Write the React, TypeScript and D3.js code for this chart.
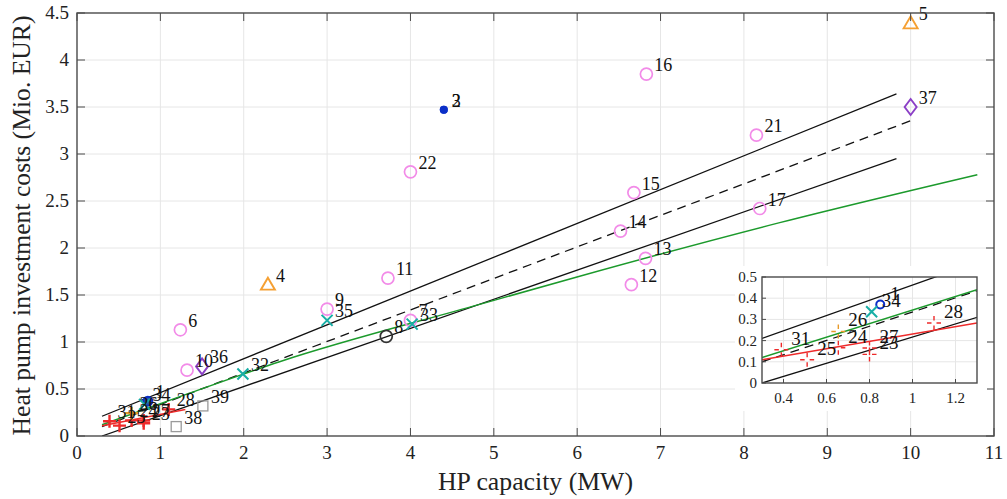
import React, { useEffect, useRef } from "react";
import * as d3 from "d3";

// plants: number, capacity (MW), investment cost (Mio. EUR), marker type
const plantIds = [1, 2, 3, 4, 5, 6, 7, 8, 9, 10, 11, 12, 13, 14, 15, 16, 17, 21, 22, 23, 24, 25, 26, 27, 28, 31, 32, 33, 34, 35, 36, 37, 38, 39];
const plantCapacity = [0.85, 4.4, 4.4, 2.29, 10.0, 1.24, 4.0, 3.71, 3.0, 1.32, 3.73, 6.65, 6.82, 6.52, 6.68, 6.83, 8.19, 8.15, 4.0, 0.8, 0.655, 0.51, 0.655, 0.8, 1.1, 0.39, 1.99, 4.02, 0.81, 3.0, 1.5, 10.0, 1.19, 1.51];
const plantCost = [0.37, 3.47, 3.47, 1.61, 4.39, 1.13, 1.23, 1.06, 1.35, 0.7, 1.68, 1.61, 1.89, 2.18, 2.59, 3.85, 2.42, 3.2, 2.81, 0.135, 0.166, 0.11, 0.243, 0.165, 0.283, 0.157, 0.66, 1.19, 0.336, 1.23, 0.74, 3.5, 0.1, 0.32];
const plantType = ["ring", "dot", "dot", "tri", "tri", "circ", "circ", "black", "circ", "circ", "circ", "circ", "circ", "circ", "circ", "circ", "circ", "circ", "circ", "plus", "plus", "plus", "plusO", "plus", "plus", "plus", "cross", "cross", "cross", "cross", "dia", "dia", "sq", "sq"];
const insetIds = [1, 23, 24, 25, 26, 27, 28, 31, 34];

// fitted lines, read at a few points
const upperX = [0.3, 9.83];
const upperY = [0.21, 3.64];
const lowerX = [0.3, 9.83];
const lowerY = [0.0, 2.95];
const meanX = [0.3, 10.02];
const meanY = [0.1, 3.36];
const greenX = [0.3, 1.3, 2.43, 4.83, 6.03, 8.43, 10.8];
const greenY = [0.12, 0.44, 0.79, 1.4, 1.7, 2.27, 2.78];
const redX = [0.3, 1.3];
const redY = [0.11, 0.283];

const xTicks = [0, 1, 2, 3, 4, 5, 6, 7, 8, 9, 10, 11];
const yTicks = [0, 0.5, 1, 1.5, 2, 2.5, 3, 3.5, 4, 4.5];
const insetXTicks = [0.4, 0.6, 0.8, 1, 1.2];
const insetYTicks = [0, 0.1, 0.2, 0.3, 0.4, 0.5];

const FONT = "'Liberation Serif', 'Times New Roman', serif";

const App = () => {
  const chartRef = useRef<SVGSVGElement>(null);

  useEffect(() => {
    drawChart();
  }, []);

  const drawMarker = (g: any, type: string, cx: number, cy: number, inset: boolean) => {
    if (type === "circ" || type === "black") {
      g.append("circle").attr("cx", cx).attr("cy", cy).attr("r", 6)
        .attr("fill", "none")
        .attr("stroke", type === "circ" ? "#f28be8" : "#333")
        .attr("stroke-width", 1.7);
    } else if (type === "dot") {
      g.append("circle").attr("cx", cx).attr("cy", cy).attr("r", 4).attr("fill", "#0b2fc8");
    } else if (type === "ring") {
      g.append("circle").attr("cx", cx).attr("cy", cy).attr("r", inset ? 4 : 4.5)
        .attr("fill", inset ? "none" : "#2a55b0").attr("stroke", "#0b2fc8").attr("stroke-width", 2);
    } else if (type === "tri") {
      g.append("path").attr("d", `M${cx},${cy - 7}L${cx + 7},${cy + 5}L${cx - 7},${cy + 5}Z`)
        .attr("fill", "none").attr("stroke", "#f5a033").attr("stroke-width", 1.9);
    } else if (type === "dia") {
      g.append("path").attr("d", `M${cx},${cy - 8}L${cx + 6},${cy}L${cx},${cy + 8}L${cx - 6},${cy}Z`)
        .attr("fill", "none").attr("stroke", "#8b3fc6").attr("stroke-width", 1.9);
    } else if (type === "cross") {
      const s = 5.5;
      g.append("path").attr("d", `M${cx - s},${cy - s}L${cx + s},${cy + s}M${cx - s},${cy + s}L${cx + s},${cy - s}`)
        .attr("stroke", "#17aea6").attr("stroke-width", 2);
    } else if (type === "sq") {
      g.append("rect").attr("x", cx - 5).attr("y", cy - 5).attr("width", 10).attr("height", 10)
        .attr("fill", "none").attr("stroke", "#9a9a9a").attr("stroke-width", 1.3);
    } else if (type === "plus" || type === "plusO") {
      const color = type === "plus" ? "#ee2a2a" : "#e89a2a";
      if (inset) {
        const a = 2.5, b = 7;
        g.append("path")
          .attr("d", `M${cx - b},${cy}L${cx - a},${cy}M${cx + a},${cy}L${cx + b},${cy}M${cx},${cy - b}L${cx},${cy - a}M${cx},${cy + a}L${cx},${cy + b}`)
          .attr("stroke", color).attr("stroke-width", 1.4);
      } else {
        const s = 6.5;
        g.append("path").attr("d", `M${cx - s},${cy}L${cx + s},${cy}M${cx},${cy - s}L${cx},${cy + s}`)
          .attr("stroke", color).attr("stroke-width", 2.4);
      }
    }
  };

  const drawLines = (g: any, x: any, y: any) => {
    const line = d3.line<[number, number]>().x((d) => x(d[0])).y((d) => y(d[1]));
    const curve = d3.line<[number, number]>().x((d) => x(d[0])).y((d) => y(d[1])).curve(d3.curveMonotoneX);
    const zip = (a: number[], b: number[]) => a.map((v, i) => [v, b[i]] as [number, number]);
    g.append("path").attr("d", line(zip(upperX, upperY))).attr("fill", "none").attr("stroke", "#111").attr("stroke-width", 1.3);
    g.append("path").attr("d", line(zip(lowerX, lowerY))).attr("fill", "none").attr("stroke", "#111").attr("stroke-width", 1.3);
    g.append("path").attr("d", line(zip(meanX, meanY))).attr("fill", "none").attr("stroke", "#111")
      .attr("stroke-width", 1.3).attr("stroke-dasharray", "9,6");
    g.append("path").attr("d", curve(zip(greenX, greenY))).attr("fill", "none").attr("stroke", "#1c9a2c").attr("stroke-width", 1.5);
    g.append("path").attr("d", line(zip(redX, redY))).attr("fill", "none").attr("stroke", "#ee2a2a").attr("stroke-width", 1.5);
  };

  const drawChart = () => {
    const width = 1007;
    const height = 499;
    const svg = d3.select(chartRef.current).attr("width", width).attr("height", height);
    svg.selectAll("*").remove();

    const x = d3.scaleLinear().domain([0, 11]).range([77, 994]);
    const y = d3.scaleLinear().domain([0, 4.5]).range([436, 13]);

    svg.append("rect").attr("width", width).attr("height", height).attr("fill", "#fff");

    // grid
    const grid = svg.append("g").attr("stroke", "#e6e6e6").attr("stroke-width", 1);
    xTicks.slice(1, -1).forEach((t) => grid.append("line").attr("x1", x(t)).attr("x2", x(t)).attr("y1", y(0)).attr("y2", y(4.5)));
    yTicks.slice(1, -1).forEach((t) => grid.append("line").attr("x1", x(0)).attr("x2", x(11)).attr("y1", y(t)).attr("y2", y(t)));

    svg.append("clipPath").attr("id", "mainClip").append("rect")
      .attr("x", x(0)).attr("y", y(4.5)).attr("width", x(11) - x(0)).attr("height", y(0) - y(4.5));
    const plot = svg.append("g").attr("clip-path", "url(#mainClip)");
    drawLines(plot, x, y);

    const pts = svg.append("g");
    plantIds.forEach((id, i) => {
      drawMarker(pts, plantType[i], x(plantCapacity[i]), y(plantCost[i]), false);
    });
    const labels = svg.append("g").attr("font-family", FONT).attr("font-size", 18).attr("fill", "#111");
    plantIds.forEach((id, i) => {
      labels.append("text").attr("x", x(plantCapacity[i]) + 8).attr("y", y(plantCost[i]) - 3).text(id);
    });

    // axes box and ticks
    const ax = svg.append("g").attr("stroke", "#4a4a4a").attr("stroke-width", 1);
    ax.append("rect").attr("x", x(0)).attr("y", y(4.5)).attr("width", x(11) - x(0)).attr("height", y(0) - y(4.5))
      .attr("fill", "none").attr("stroke-width", 1.4);
    xTicks.forEach((t) => {
      ax.append("line").attr("x1", x(t)).attr("x2", x(t)).attr("y1", y(0)).attr("y2", y(0) - 8);
      ax.append("line").attr("x1", x(t)).attr("x2", x(t)).attr("y1", y(4.5)).attr("y2", y(4.5) + 8);
    });
    yTicks.forEach((t) => {
      ax.append("line").attr("x1", x(0)).attr("x2", x(0) + 8).attr("y1", y(t)).attr("y2", y(t));
      ax.append("line").attr("x1", x(11)).attr("x2", x(11) - 8).attr("y1", y(t)).attr("y2", y(t));
    });

    const tl = svg.append("g").attr("font-family", FONT).attr("font-size", 19).attr("fill", "#222");
    xTicks.forEach((t) => tl.append("text").attr("x", x(t)).attr("y", y(0) + 23).attr("text-anchor", "middle").text(t));
    yTicks.forEach((t) => tl.append("text").attr("x", x(0) - 8).attr("y", y(t) + 6).attr("text-anchor", "end").text(t));

    svg.append("text").attr("x", (x(0) + x(11)) / 2).attr("y", 490).attr("text-anchor", "middle")
      .attr("font-family", FONT).attr("font-size", 25.5).attr("fill", "#222")
      .attr("textLength", 195).attr("lengthAdjust", "spacingAndGlyphs").text("HP capacity (MW)");
    svg.append("text").attr("transform", `translate(30,${(y(0) + y(4.5)) / 2 + 1}) rotate(-90)`).attr("text-anchor", "middle")
      .attr("font-family", FONT).attr("font-size", 25.5).attr("fill", "#222")
      .attr("textLength", 420).attr("lengthAdjust", "spacingAndGlyphs").text("Heat pump investment costs (Mio. EUR)");

    // inset
    const ix = d3.scaleLinear().domain([0.3, 1.3]).range([762, 977]);
    const iy = d3.scaleLinear().domain([0, 0.5]).range([383, 277]);
    svg.append("rect").attr("x", 735).attr("y", 266).attr("width", 252).attr("height", 145).attr("fill", "#fff");
    const ig = svg.append("g").attr("stroke", "#e6e6e6").attr("stroke-width", 1);
    insetXTicks.forEach((t) => ig.append("line").attr("x1", ix(t)).attr("x2", ix(t)).attr("y1", iy(0)).attr("y2", iy(0.5)));
    insetYTicks.slice(1, -1).forEach((t) => ig.append("line").attr("x1", ix(0.3)).attr("x2", ix(1.3)).attr("y1", iy(t)).attr("y2", iy(t)));

    svg.append("clipPath").attr("id", "insetClip").append("rect")
      .attr("x", ix(0.3)).attr("y", iy(0.5)).attr("width", ix(1.3) - ix(0.3)).attr("height", iy(0) - iy(0.5));
    const iplot = svg.append("g").attr("clip-path", "url(#insetClip)");
    drawLines(iplot, ix, iy);
    plantIds.forEach((id, i) => {
      if (insetIds.includes(id)) drawMarker(iplot, plantType[i], ix(plantCapacity[i]), iy(plantCost[i]), true);
    });
    const il = svg.append("g").attr("font-family", FONT).attr("font-size", 19).attr("fill", "#111");
    plantIds.forEach((id, i) => {
      if (insetIds.includes(id)) il.append("text").attr("x", ix(plantCapacity[i]) + 10).attr("y", iy(plantCost[i]) - 5).text(id);
    });

    const iax = svg.append("g").attr("stroke", "#4a4a4a").attr("stroke-width", 1);
    iax.append("rect").attr("x", ix(0.3)).attr("y", iy(0.5)).attr("width", ix(1.3) - ix(0.3)).attr("height", iy(0) - iy(0.5))
      .attr("fill", "none").attr("stroke-width", 1.4);
    insetXTicks.forEach((t) => iax.append("line").attr("x1", ix(t)).attr("x2", ix(t)).attr("y1", iy(0)).attr("y2", iy(0) - 4));
    insetYTicks.forEach((t) => iax.append("line").attr("x1", ix(0.3)).attr("x2", ix(0.3) + 4).attr("y1", iy(t)).attr("y2", iy(t)));
    const itl = svg.append("g").attr("font-family", FONT).attr("font-size", 15).attr("fill", "#222");
    insetXTicks.forEach((t) => itl.append("text").attr("x", ix(t)).attr("y", iy(0) + 20).attr("text-anchor", "middle").text(t));
    insetYTicks.forEach((t) => itl.append("text").attr("x", ix(0.3) - 5).attr("y", iy(t) + 5).attr("text-anchor", "end").text(t));
  };

  return <svg ref={chartRef} style={{ position: "absolute", left: 0, top: 0 }}></svg>;
};

export default App;
